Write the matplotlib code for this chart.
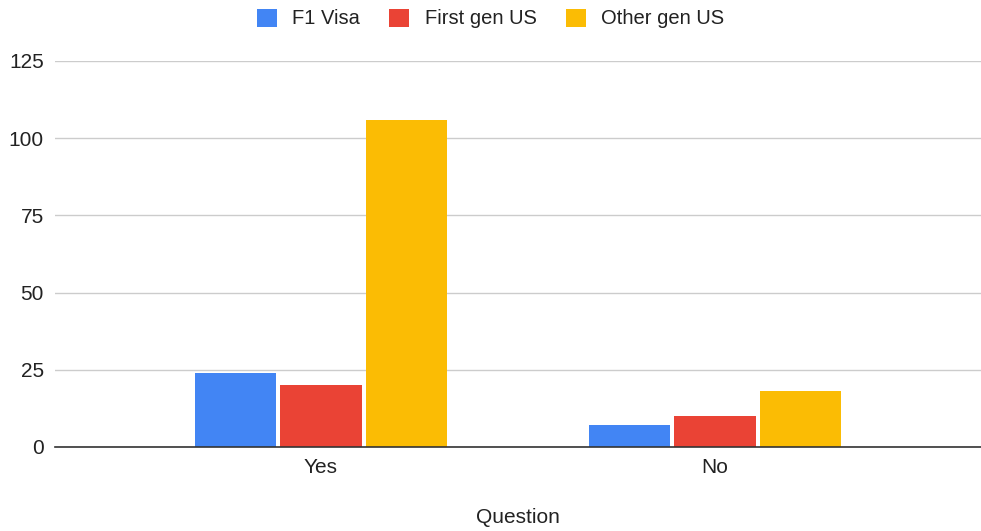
import matplotlib.pyplot as plt
from matplotlib.patches import Patch
import numpy as np

plt.rcParams['font.family'] = ['Liberation Sans', 'DejaVu Sans']

# survey answers per group
categories = ["Yes", "No"]
series = ["F1 Visa", "First gen US", "Other gen US"]
f1_visa = [24, 7]
first_gen = [20, 10]
other_gen = [106, 18]
colors = ["#4285f4", "#ea4335", "#fbbc04"]

fig = plt.figure(figsize=(9.81, 5.31), dpi=100)
ax = fig.add_axes([55 / 981, 84 / 531, 926 / 981, 386 / 531])

x = np.arange(len(categories))
step = 0.216
width = 0.206
for i, (vals, col) in enumerate(zip([f1_visa, first_gen, other_gen], colors)):
    ax.bar(x + (i - 1) * step, vals, width=width, color=col, zorder=3)

ax.set_xlim(-0.675, 1.675)
ax.set_ylim(0, 125)
ax.set_yticks([0, 25, 50, 75, 100, 125])
ax.set_xticks(x)
ax.set_xticklabels(categories)
ax.grid(axis="y", color="#cccccc", linewidth=1, zorder=0)
ax.tick_params(axis="both", length=0, labelsize=15, colors="#222222")
ax.tick_params(axis="y", pad=8)
ax.tick_params(axis="x", pad=8)
for s in ["top", "right", "left"]:
    ax.spines[s].set_visible(False)
ax.spines["bottom"].set_color("#333333")
ax.spines["bottom"].set_linewidth(1.2)
ax.spines["bottom"].set_zorder(4)

ax.set_xlabel("Question", fontsize=15, color="#222222", labelpad=22)

handles = [Patch(facecolor=c, label=s) for s, c in zip(series, colors)]
fig.legend(handles=handles, loc="center", bbox_to_anchor=(0.5, 1 - 18.5 / 531),
           ncol=3, frameon=False, fontsize=14.5, handlelength=1.0,
           handleheight=1.0, handletextpad=0.75, columnspacing=1.45,
           labelcolor="#222222")

plt.savefig("out.png")
